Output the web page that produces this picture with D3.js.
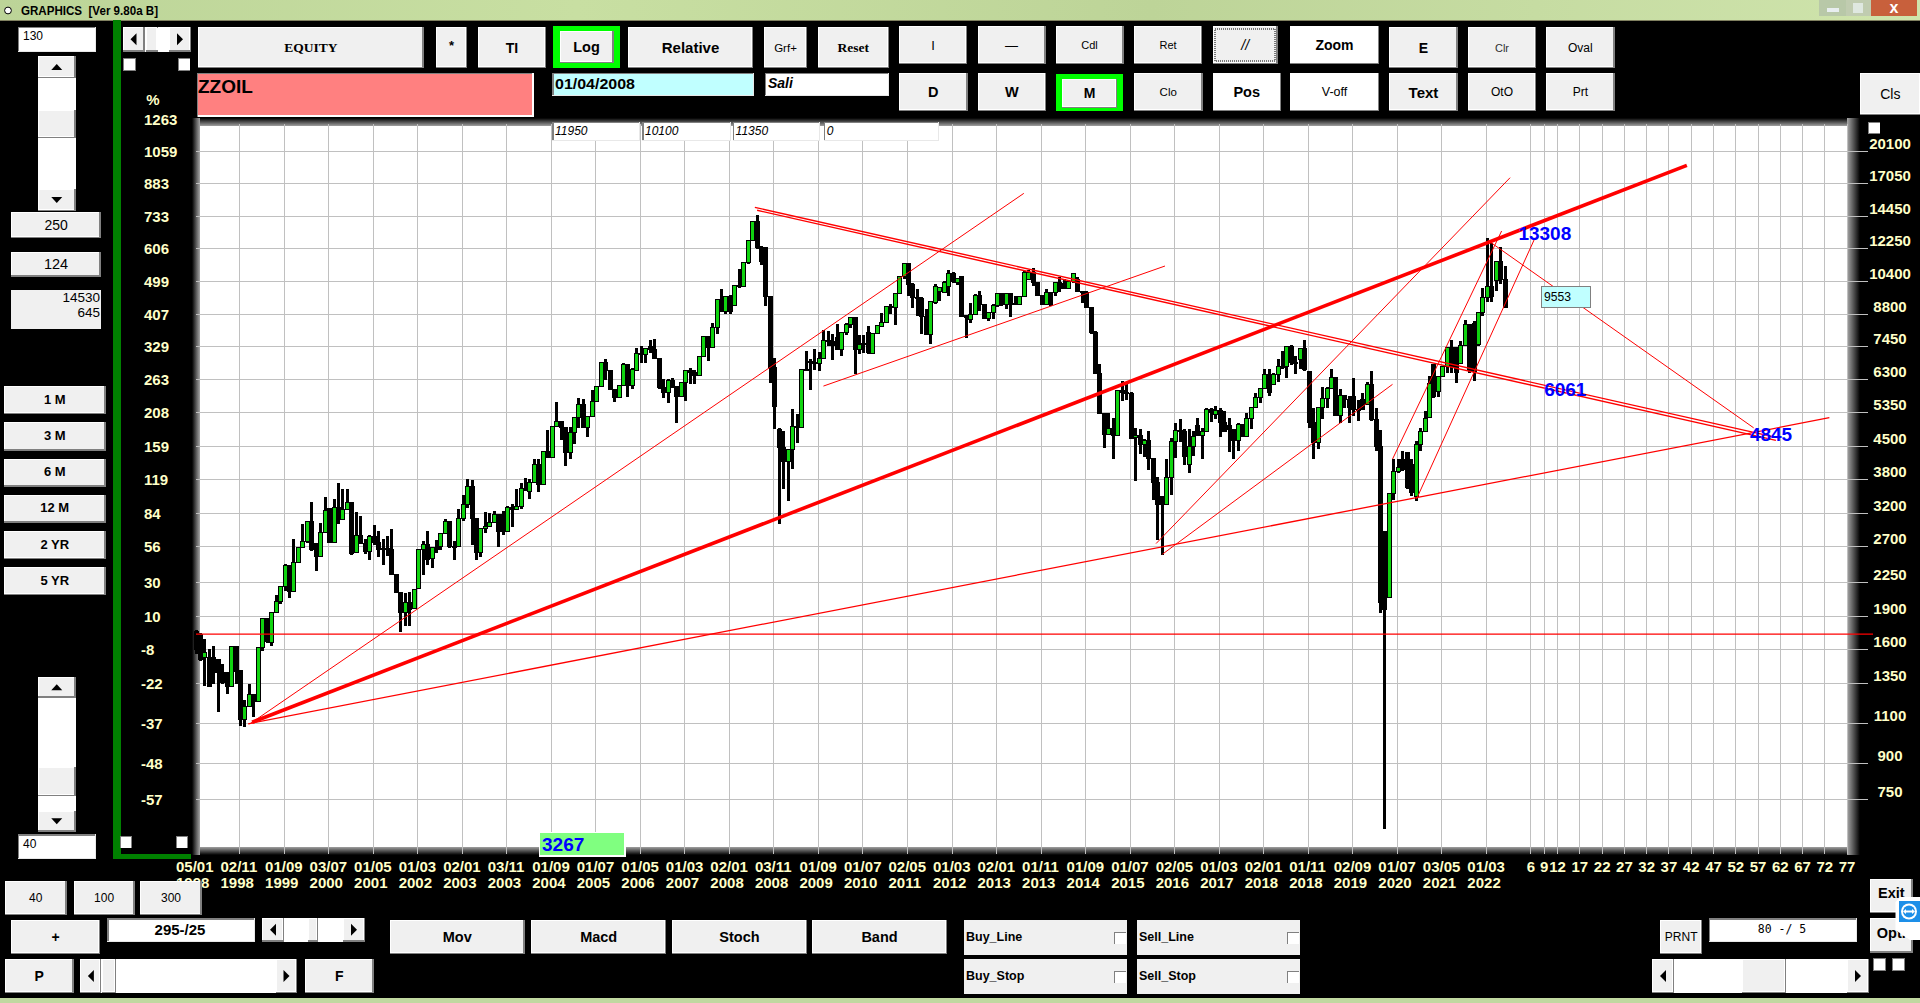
<!DOCTYPE html>
<html><head><meta charset="utf-8">
<script src="https://cdn.jsdelivr.net/npm/d3@7"></script>
<style>html,body{margin:0;padding:0;background:#000;overflow:hidden}svg{display:block}</style>
</head><body><svg id="c" width="1920" height="1003"></svg>
<script>
// ---------- chart data (monthly OHLC) ----------
const opens=[1760,1730,1538,1538,1538,1525,1425,1425,1332,1626,
1444,1124,1203,1276,1234,1617,1874,1659,1938,2050,
2212,2460,2156,2489,2686,2770,3065,2747,2575,2910,
3275,2756,3304,3103,3265,3377,2619,2865,2747,2640,
2841,2756,2677,2673,2664,2346,2138,1938,2033,1972,
2182,2664,2732,2540,2686,2709,2890,3077,2709,2700,
3124,3348,3675,3113,2619,2964,3000,3060,3183,3183,
2925,3292,3265,3320,3625,3585,3738,4100,3705,4375,
4260,4984,5110,4940,4368,4835,5218,5565,4958,5226,
5660,6085,6875,6625,6004,5755,6127,6815,6127,6625,
7207,7170,7455,7355,7015,6055,5903,6295,6106,5804,
6211,6625,6534,6446,7085,7843,7418,8210,9480,8935,
9642,9195,10196,10110,11421,12750,14065,12325,12325,9642,
6700,4900,4465,4170,4428,4984,4958,6646,6930,6875,
6860,7015,7712,7670,7800,7355,8030,8350,8640,7355,
7545,8000,7207,7978,8280,8421,9165,9090,9755,10640,
11363,10230,9560,9500,8711,7937,9321,9890,9840,10100,
10800,10318,10640,8740,8565,8785,9690,9240,8590,8860,
9200,9770,9240,9750,9300,9240,9642,10494,10855,10318,
9675,9240,9840,9807,10318,10300,10010,10405,10500,9890,
9807,9120,8030,6500,5310,4778,4925,4755,5973,5903,
5880,4698,4762,4540,4640,4230,3738,3480,3348,3835,
4600,4885,4860,4102,4503,5000,4755,4860,5424,5290,
5408,5087,5000,4900,4643,5030,4738,5173,5470,5755,
6024,6480,6160,6480,6760,6750,7455,6875,6992,7380,
6590,5070,4580,5470,5725,6024,6370,5270,5833,5700,
5800,5424,5700,5565,6160,5156,4503,2925,2085,3535,
3967,4200,4368,4100,3494,4540,4842,5200,6800,5950,
6400,6760,7418,7418,6850,7505,8350,8400,7545,8860,
9560,10110,10440,11518,10494];
const highs=[1775,1740,1692,1610,1631,1525,1487,1430,1626,1626,
1444,1244,1347,1281,1617,1874,1874,1938,2112,2212,
2470,2460,2813,2686,3035,3065,3394,2747,3050,3480,
3275,3434,3738,3625,3625,3377,3226,3156,2813,2875,
3010,2925,2813,2851,2959,2346,2138,2138,2150,2175,
2664,2780,2925,2686,2795,2890,3103,3077,2780,3265,
3515,3814,3790,3130,2975,3226,3210,3237,3183,3237,
3320,3348,3625,3725,3833,3802,4220,4220,4375,4875,
4984,5640,5110,4940,4967,5226,5755,5725,5226,5985,
6106,6875,6992,6625,6004,6127,6875,6815,6700,7392,
7481,7418,7712,7738,7050,6316,6316,6370,6106,6211,
6625,6680,6625,7085,7843,7843,8421,9480,9974,9642,
9675,10196,11078,11421,12750,14065,14530,12430,12325,9642,
7050,4940,4860,4428,5424,5290,6646,7294,7015,7380,
7258,8110,8070,7960,8350,8030,8390,8680,8640,7896,
7910,8280,8005,8310,8830,9165,9240,9755,10640,11363,
11363,10318,10010,9610,9011,9370,10230,10110,10405,10985,
10890,10530,10640,8740,9321,9725,9890,9240,8860,9240,
9807,9770,9750,9750,9642,9642,10950,11003,11100,10318,
9675,9974,9840,10355,10640,10494,10440,10820,10620,9890,
9890,9120,8070,6840,5310,5333,5182,5973,6263,6160,
5933,4940,4900,4658,4860,4230,3855,3480,4208,4680,
5050,5173,4915,4915,4860,5200,4940,5470,5470,5517,
5470,5378,5200,4915,5050,5030,5315,5490,5893,6024,
6668,6646,6512,6992,7294,7455,7520,7110,7380,7712,
6590,5470,5470,6085,6085,6668,6370,6004,5833,5804,
6350,5687,5903,6232,6590,5470,4885,2925,3535,4208,
4208,4390,4368,4208,4620,4940,5378,6424,6840,6424,
6760,7455,7712,7418,7670,8536,8350,8490,8860,10059,
12970,12642,11518,12390,11229];
const lows=[1564,1512,1336,1328,1343,1169,1343,1281,1332,1343,
1087,1084,1207,1140,1234,1595,1659,1631,1938,2023,
2156,2085,2156,2489,2686,2756,2640,2386,2575,2910,
2756,2756,3035,3103,3265,2597,2619,2747,2610,2532,
2732,2566,2468,2575,2346,2138,1752,1805,1805,1972,
2182,2346,2468,2427,2619,2664,2890,2686,2523,2700,
3077,3292,2722,2532,2566,2900,3000,3060,2700,2875,
2925,2990,3255,3265,3585,3446,3738,3565,3705,4260,
4260,4984,4645,4068,4220,4540,4940,4958,4722,5226,
5660,6085,6295,6004,5640,5755,6106,5775,6015,6590,
6875,6875,7232,6992,6004,5755,5611,6055,5070,5804,
5660,6160,6160,6424,7085,6930,7418,7937,8890,8785,
8785,9165,10059,10110,11325,12750,12263,11267,9165,6211,
4900,3025,3613,3405,4000,4580,5030,6640,5985,6625,
6590,7015,7481,6957,7330,7110,7896,8210,6480,7170,
7232,7170,7207,7978,8280,8390,8785,8310,9720,10494,
9642,9090,8711,7960,7937,7545,9240,9400,9840,9642,
10318,10180,8711,7800,8390,8785,8935,8565,8490,8565,
9140,9165,9011,8680,9195,9240,9642,10494,10144,9642,
9240,9240,9165,9642,9840,10010,10010,10318,9840,9321,
9120,7960,6500,5290,4465,4755,4222,4762,5660,5687,
4658,3770,4317,4265,3987,3425,2794,2597,3348,3520,
4245,4600,4082,3933,4280,4755,4222,4860,5087,5156,
4722,4860,4368,4222,4390,4722,4738,4915,5470,5611,
6024,5804,6160,6232,6668,6370,6783,6480,6646,6590,
4940,4208,4443,5156,5470,6024,5244,5070,5470,5070,
5244,5113,5424,5565,5113,4390,1932,645,2085,3425,
3933,3967,3613,3494,3405,4390,4842,5200,5755,5775,
6400,6534,6534,6211,6815,7505,6534,6263,7481,8711,
9355,9355,9890,10230,9090];
const closes=[1604,1525,1577,1332,1425,1425,1354,1332,1626,1437,
1124,1203,1276,1234,1617,1874,1667,1938,2050,2212,
2460,2156,2489,2686,2770,3065,2664,2575,2910,3255,
2756,3304,3103,3265,3377,2610,2865,2747,2640,2851,
2756,2664,2664,2664,2346,2138,1938,2033,1965,2175,
2664,2732,2532,2686,2664,2890,3077,2709,2700,3124,
3348,3675,3113,2619,2964,3000,3060,3183,2920,2925,
3292,3265,3320,3625,3595,3738,4100,3705,4375,4260,
4984,5110,4940,4368,4835,5218,5565,4958,5226,5660,
6085,6875,6625,6004,5755,6127,6815,6127,6646,7207,
7170,7392,7355,7015,6055,5903,6295,6106,5804,6211,
6625,6534,6446,7085,7843,7418,8210,9480,8935,9642,
8935,10196,10110,11421,12750,14065,12325,11518,9642,6700,
5500,4465,4170,4428,4984,4958,6646,6640,6875,6860,
7015,7712,7670,7500,7355,8030,8350,8640,7355,7545,
7582,7232,7978,8310,8421,9165,9100,9755,10640,11363,
10230,9560,9500,8711,7937,9370,10110,10060,10350,10800,
10405,10530,8711,8640,8785,9690,9240,8590,8860,9200,
9770,9240,9750,9240,9240,9642,10890,10855,10318,9675,
9240,9840,9240,10318,10010,10010,10405,10800,9890,9807,
9120,8030,6500,5310,4778,4925,4755,5973,5903,5880,
4675,4762,4540,4640,4230,3738,3348,3348,3835,4600,
4885,4860,4280,4503,4738,4755,4860,5424,5350,5408,
5087,4860,4900,4643,5030,4738,5173,5470,5755,6024,
6480,5903,6480,6760,6750,7455,6875,6850,7380,6646,
5070,4580,5470,5725,6024,6370,5270,5833,5700,5470,
5424,5400,5424,6160,5156,4503,2033,1965,3535,3967,
4030,4000,3650,3553,4540,4842,5173,6180,5800,6400,
6760,7418,6760,6534,7505,8350,6600,6590,8860,9560,
10110,9642,11518,10494,9090];
const priceTicks=[20100,17050,14450,12250,10400,8800,7450,6300,5350,4500,3800,3200,2700,2250,1900,1600,1350,1100,900,750];
const pctLabels=["1059","883","733","606","499","407","329","263","208","159","119","84","56","30","10","-8","-22","-37","-48","-57"];
const dateLabels=["05/01","02/11","01/09","03/07","01/05","01/03","02/01","03/11","01/09","01/07","01/05","01/03","02/01","03/11","01/09","01/07","02/05","01/03","02/01","01/11","01/09","01/07","02/05","01/03","02/01","01/11","02/09","01/07","03/05","01/03"];
const yearLabels=["1998","1998","1999","2000","2001","2002","2003","2003","2004","2005","2006","2007","2008","2008","2009","2010","2011","2012","2013","2013","2014","2015","2016","2017","2018","2018","2019","2020","2021","2022"];
const futureLabels=[6,9,12,17,22,27,32,37,42,47,52,57,62,67,72,77];
// trend lines: [barIndex1, price1, barIndex2, price2]
const thinLines=[[12.1,1100,185.9,16236],[140.9,6106,217.6,11229],[215.6,2746,295.1,17580],[217,2600,268.7,6160],[268.7,4215,293.2,13414],[274.1,3445,300.7,12953],[290.1,12790,349.8,4940]];
const mediumLine=[11.7,1100,366.8,5200];
const heavyLine=[12.6,1109,334.8,18720];
const doubleLines=[[125.5,15127,354.8,4706],[126,14900,354.8,4635]];
const levelLine=[0,1734,376.6,1734];
const priceNotes=[{t:"13308",i:302.9,p:13260},{t:"6061",i:307.5,p:6000},{t:"4845",i:353.7,p:4785}];

// ---------- scales ----------
const svg=d3.select("#c");
const x=d3.scaleLinear().domain([0,371]).range([196,196+371*4.453]);
const y=d3.scaleLog().domain([750,20100]).range([799.3,151.3]);
const NARROW="'Liberation Sans Narrow','Liberation Sans',Arial,sans-serif";
const SANS="'Liberation Sans',Arial,sans-serif";
const SERIF="'Liberation Serif',serif";
const CREAM="#ffffc8";

const defs=svg.append("defs");
function grad(id,x2,y2,stops){const g=defs.append("linearGradient").attr("id",id).attr("x1",0).attr("y1",0).attr("x2",x2).attr("y2",y2);
  stops.forEach(s=>g.append("stop").attr("offset",s[0]).attr("stop-color",s[1]));}
grad("title",1,0,[[0,"#bcd498"],[0.3,"#c8dfa2"],[0.6,"#bdd498"],[1,"#cfe4ac"]]);
grad("fT",0,1,[[0,"#000"],[1,"#a0a0a0"]]);
grad("fB",0,1,[[0,"#a0a0a0"],[1,"#000"]]);
grad("fL",1,0,[[0,"#000"],[1,"#a8a8a8"]]);
grad("fR",1,0,[[0,"#a8a8a8"],[1,"#000"]]);

function rect(g,x0,y0,w,h,fill){return g.append("rect").attr("x",x0).attr("y",y0).attr("width",w).attr("height",h).attr("fill",fill).attr("shape-rendering","crispEdges");}
function text(g,s,tx,ty,o={}){return g.append("text").attr("x",tx).attr("y",ty).text(s)
  .attr("font-family",o.f||NARROW).attr("font-size",o.s||13).attr("font-weight",o.w||"normal").attr("font-style",o.i||"normal")
  .attr("fill",o.c||"#000").attr("text-anchor",o.a||"middle").attr("dominant-baseline","central");}
function button(x0,y0,x1,y1,label,o={}){
  const g=svg.append("g");
  rect(g,x0,y0,x1-x0,y1-y0,"#808080");
  rect(g,x0,y0,x1-x0-1.5,y1-y0-1.5,"#ffffff");
  rect(g,x0+1,y0+1,x1-x0-3,y1-y0-3,o.fill||"#f0f0f0");
  if(label!==undefined&&label!=="") text(g,label,(x0+x1)/2,(y0+y1)/2+(o.dy||0),o);
  return g;
}
function input(x0,y0,x1,y1,fill){
  const g=svg.append("g");
  rect(g,x0,y0,x1-x0,y1-y0,"#e8e8e8");
  rect(g,x0,y0,x1-x0-1,1.5,"#808080");
  rect(g,x0,y0,1.5,y1-y0-1,"#808080");
  rect(g,x0+1.5,y0+1.5,x1-x0-2.5,y1-y0-2.5,fill||"#fff");
  return g;
}
function check(x0,y0,s){rect(svg,x0,y0,s,s,"#808080");rect(svg,x0+1,y0+1,s-1.5,s-1.5,"#fff");}
function arrow(g,cx,cy,dir){const a=4.5,b=5.5;const p={u:[[cx-b,cy+a/1.5],[cx+b,cy+a/1.5],[cx,cy-a/1.5]],d:[[cx-b,cy-a/1.5],[cx+b,cy-a/1.5],[cx,cy+a/1.5]],l:[[cx+3,cy-6],[cx+3,cy+6],[cx-3,cy]],r:[[cx-3,cy-6],[cx-3,cy+6],[cx+3,cy]]}[dir];
  g.append("path").attr("d",d3.line()(p)+"Z").attr("fill","#000");}
function vscroll(x0,x1,y0,y1,btn,t0,t1){
  button(x0,y0,x1,y0+btn);arrow(svg,(x0+x1)/2,y0+btn/2,"u");
  rect(svg,x0,y0+btn,x1-x0,y1-y0-2*btn,"#fff");
  button(x0,t0,x1,t1);
  button(x0,y1-btn,x1,y1);arrow(svg,(x0+x1)/2,y1-btn/2,"d");
}
function hscroll(x0,x1,y0,y1,btn,t0,t1){
  rect(svg,x0,y0,x1-x0,y1-y0,"#fff");
  button(x0,y0,x0+btn,y1);arrow(svg,x0+btn/2,(y0+y1)/2,"l");
  button(t0,y0,t1,y1);
  button(x1-btn,y0,x1,y1);arrow(svg,x1-btn/2,(y0+y1)/2,"r");
}

// ---------- window chrome ----------
rect(svg,0,0,1920,1003,"#000");
rect(svg,0,0,1920,20,"url(#title)");
rect(svg,0,20,1920,1,"#808060");
svg.append("circle").attr("cx",8).attr("cy",10.5).attr("r",3.4).attr("fill","#fff").attr("stroke","#000");
text(svg,"GRAPHICS  [Ver 9.80a B]",21,10.5,{a:"start",s:12.5,w:"bold",f:SANS}).attr("textLength",137).attr("lengthAdjust","spacingAndGlyphs").attr("xml:space","preserve");
rect(svg,1819,0,27,16,"#b8c8a8");rect(svg,1846,0,25,16,"#c0ccb0");rect(svg,1871,0,46,16,"#c8603c");
rect(svg,1827,8,12,4,"#e8eef0");rect(svg,1853,3,10,10,"#dfe8e0");
text(svg,"x",1894,7,{c:"#fff",w:"bold",s:16,f:SANS});
rect(svg,0,998,1920,5,"#c0d8a0");

// ---------- plot ----------
rect(svg,200,126,1647,721,"#fff");
rect(svg,192,118,1668,8,"url(#fT)");
rect(svg,192,847,1668,8,"url(#fB)");
rect(svg,192,118,8,737,"url(#fL)");
rect(svg,1847,118,13,737,"url(#fR)");

const gridBars=d3.range(10,300,10).concat(d3.range(0,16).map(k=>(k===0?300:k===1?303:k===2?306:306+(k-2)*5)));
svg.append("g").selectAll("line").data(gridBars).join("line")
  .attr("x1",d=>x(d)-1).attr("x2",d=>x(d)-1).attr("y1",124).attr("y2",854)
  .attr("stroke","#c0c0c0").attr("stroke-width",1).attr("shape-rendering","crispEdges");
svg.append("g").selectAll("line").data(priceTicks).join("line")
  .attr("x1",196).attr("x2",1868).attr("y1",d=>y(d)).attr("y2",d=>y(d))
  .attr("stroke","#c0c0c0").attr("stroke-width",1).attr("shape-rendering","crispEdges");

// candles
const bars=d3.range(closes.length).map(i=>({i,o:opens[i],h:highs[i],l:lows[i],c:closes[i]}));
const cg=svg.append("g").attr("shape-rendering","crispEdges");
cg.selectAll("rect.w").data(bars).join("rect").attr("class","w")
  .attr("x",d=>x(d.i)-1.5).attr("width",3)
  .attr("y",d=>y(d.h)).attr("height",d=>Math.max(1,y(d.l)-y(d.h))).attr("fill","#000");
cg.selectAll("rect.b").data(bars).join("rect").attr("class","b")
  .attr("x",d=>x(d.i)-2).attr("width",4)
  .attr("y",d=>y(Math.max(d.o,d.c))).attr("height",d=>Math.max(1,Math.abs(y(d.o)-y(d.c))))
  .attr("fill",d=>d.c>=d.o?"#10d410":"#000").attr("stroke","#000").attr("stroke-width",1);

// trend lines
function tl(d,w){svg.append("line").attr("x1",x(d[0])).attr("y1",y(d[1])).attr("x2",x(d[2])).attr("y2",y(d[3])).attr("stroke","#ff0000").attr("stroke-width",w);}
thinLines.forEach(d=>tl(d,1));
tl(mediumLine,1.3);
doubleLines.forEach(d=>tl(d,1.4));
tl(heavyLine,3.6);
tl(levelLine,1.2);

// axes labels
svg.append("g").selectAll("text").data(priceTicks).join("text")
  .attr("x",1890).attr("y",d=>y(d)-8).attr("text-anchor","middle").attr("dominant-baseline","central")
  .attr("font-family",NARROW).attr("font-size",15).attr("font-weight","bold").attr("fill",CREAM).text(d=>d);
rect(svg,1860,126,60,12,"#000");
svg.append("g").selectAll("text").data(priceTicks).join("text")
  .attr("x",144).attr("y",d=>y(d)).attr("text-anchor","start").attr("dx",(d,i)=>pctLabels[i][0]==="-"?-3:0)
  .attr("dominant-baseline","central").attr("font-family",NARROW).attr("font-size",15).attr("font-weight","bold").attr("fill",CREAM).text((d,i)=>pctLabels[i]);
text(svg,"1263",144,y(20100)-32,{a:"start",s:15,w:"bold",c:CREAM});
text(svg,"%",153,99,{s:15,w:"bold",c:CREAM});
dateLabels.forEach((s,k)=>{
  const px=x(k*10)-1-19;
  text(svg,s,px,866,{a:"start",s:15,w:"bold",c:CREAM});
  text(svg,yearLabels[k],px,882,{a:"start",s:15,w:"bold",c:CREAM});
});
futureLabels.forEach(n=>text(svg,n,x(294+n)-1,866,{s:15,w:"bold",c:CREAM}));

// notes on chart
priceNotes.forEach(n=>text(svg,n.t,x(n.i),y(n.p),{s:19,w:"bold",c:"#0000ff",f:SANS}));
rect(svg,1541,286,50,22,"#808080");rect(svg,1542,287,48,20,"#c0ffff");
text(svg,"9553",1544,297,{a:"start",s:12.5,f:SANS}).attr("textLength",27).attr("lengthAdjust","spacingAndGlyphs");
rect(svg,539,832,87,25,"#fff");rect(svg,540,833,84,22,"#80ff80");
text(svg,"3267",542,844.5,{a:"start",s:19,w:"bold",c:"#0000ff",f:SANS});

// ---------- inputs on plot ----------
[[552,640,"11950"],[642,730.6,"10100"],[732.6,820.4,"11350"],[823.7,939,"0"]].forEach(d=>{input(d[0],121.7,d[1],140.7);text(svg,d[2],d[0]+3,131,{a:"start",s:12,i:"italic"});});

// ---------- left panel ----------
rect(svg,113,20,7.5,838,"#008000");rect(svg,113,854,78,5,"#008000");
input(17.5,26.7,96,51.7);text(svg,"130",23,36,{a:"start",s:12});
vscroll(38,75.5,56,211,22,110,138);
button(11.4,212,100.8,238,"250",{s:14});
button(11.4,251.7,100.8,276.7,"124",{s:14.5});
rect(svg,11,290,90,39,"#f0f0f0");
text(svg,"14530",100,297,{a:"end",s:13.5});text(svg,"645",100,312,{a:"end",s:13.5});
[["1 M",386,414],["3 M",422,450.7],["6 M",459,486.7],["12 M",495,522.7],["2 YR",531,559],["5 YR",567,595]].forEach(d=>button(4,d[1],105.5,d[2],d[0],{s:13,w:"bold",dy:-1}));
vscroll(38,75.5,676.7,831.7,21,766.7,796);
input(17.5,834,96,859);text(svg,"40",23,844,{a:"start",s:12});
hscroll(122.5,191,26.7,51.7,22,146,158);
rect(svg,157,28,12,22,"#fff");
check(123,58,12.5);check(177.5,58,12.5);
check(119.5,836,12);check(175.5,836,12);
button(5,881,66.5,915,"40",{s:12});button(73.5,881,134.7,915,"100",{s:12});button(140.4,881,201.6,915,"300",{s:12});
button(11.4,920,100,954.3,"+",{s:14,w:"bold",f:SANS});
input(107,918,254.7,941.7);text(svg,"295-/25",180,929.5,{s:15,w:"bold"});
hscroll(262,365,918,941.7,22,308,318);
button(5,959,73.5,993,"P",{s:14,w:"bold"});
hscroll(80.4,297,959,993,21,102,116);
button(305,959,373.5,993,"F",{s:14,w:"bold"});
[["Mov",390,524.5],["Macd",531.4,666],["Stoch",672,807],["Band",812,947]].forEach(d=>button(d[1],920,d[2],954.3,d[0],{s:14.5,w:"bold"}));

// check panels
[["Buy_Line",964,920],["Buy_Stop",964,959],["Sell_Line",1137,920],["Sell_Stop",1137,959]].forEach(d=>{
  rect(svg,d[1],d[2],162.5,35,"#f0f0f0");
  text(svg,d[0],d[1]+2,d[2]+17,{a:"start",s:12.5,w:"bold"});
  check(d[1]+150,d[2]+12,12);
});

// ---------- top toolbar ----------
button(198,26.7,423.7,68.3,"EQUITY",{s:13.5,w:"bold",f:SERIF});
button(436,26.7,467,68.3,"*",{s:13,w:"bold",f:SANS,dy:-2});
button(478,26.7,546,68.3,"TI",{s:14,w:"bold"});
rect(svg,552.6,26,67.8,42,"#00ff00");button(559.5,31,613.5,63,"Log",{s:14.5,w:"bold"});
button(628,26.7,753,68.3,"Relative",{s:15,w:"bold"});
button(764,26.7,807,68.3,"Grf+",{s:11.5});
button(817.5,26.7,889,68.3,"Reset",{s:13.5,w:"bold",f:SERIF});
[["I",899,13],["—",977.6,13],["Cdl",1055.5,11],["Ret",1134,11]].forEach(d=>button(d[1],26,d[1]+68,64,d[0],{s:d[2],f:d[0]==="—"?SANS:NARROW}));
button(1213,26,1277.5,64,"//",{s:14,i:"italic"});
svg.append("rect").attr("x",1215).attr("y",29).attr("width",60).attr("height",32).attr("fill","none").attr("stroke","#000").attr("stroke-dasharray","1 1");
[["D",899,"#f0f0f0"],["W",977.6,"#f0f0f0"],["Clo",1134,"#f0f0f0"],["Pos",1212.5,"#fff"]].forEach(d=>button(d[1],73.3,d[1]+68.5,111,d[0],{s:d[0]==="Clo"?11.5:14.5,fill:d[2],w:d[0]==="Clo"?"normal":"bold"}));
rect(svg,1056,74,67,37,"#00ff00");button(1062,78.5,1117,108,"M",{s:14,w:"bold"});
button(1290,26,1379,64,"Zoom",{s:14,w:"bold",fill:"#fff"});
button(1290,73.3,1379,111,"V-off",{s:12.5,fill:"#fff"});
button(1389.4,26.7,1457.5,68.3,"E",{s:14,w:"bold"});
button(1389.4,73.3,1457.5,111,"Text",{s:15,w:"bold"});
button(1468,26.7,1536,68.3,"Clr",{s:11,c:"#303030"});
button(1468,73.3,1536,111,"OtO",{s:12});
button(1546,26.7,1614.7,68.3,"Oval",{s:12});
button(1546,73.3,1614.7,111,"Prt",{s:12});
button(1859.6,73,1921,115,"Cls",{s:14,w:"normal"});
check(1868,121.7,12);

// name, date, user boxes
rect(svg,196.7,72.7,337,44,"#fff");rect(svg,196.7,72.7,335.5,1.5,"#808080");rect(svg,196.7,72.7,1.5,44,"#808080");rect(svg,198,74,334,41,"#ff8080");
text(svg,"ZZOIL",198,86.5,{a:"start",s:19,w:"bold",f:SANS});
input(552,72.7,754,95.7,"#c0ffff");text(svg,"01/04/2008",555,83,{a:"start",s:15,w:"bold",f:SANS}).attr("textLength",80).attr("lengthAdjust","spacingAndGlyphs");
input(764.5,72.7,889,95.7);text(svg,"Sali",768,83,{a:"start",s:14,w:"bold",i:"italic"});

// ---------- lower right ----------
button(1660,920,1702.4,954.3,"PRNT",{s:12});
input(1708.6,918,1856.7,941.7);text(svg,"80 -/ 5",1782,928.5,{s:11.5,f:"'DejaVu Sans Mono',monospace"}).attr("xml:space","preserve");
button(1870,879,1912.7,913,"Exit",{s:14.5,w:"bold",dy:-3});
button(1870,918,1912.7,952.7,"Opt.",{s:14.5,w:"bold",dy:-2});
hscroll(1652,1869,959,993,22,1742.4,1786);
check(1873,958,12.5);check(1892,958,12.5);
// remote-support badge
svg.append("path").attr("d","M1900 897H1920V940H1910L1895.5 930V902Z").attr("fill","#fff");
rect(svg,1899,901,21,21,"#1d8fe8");
svg.append("circle").attr("cx",1909).attr("cy",911.5).attr("r",8).attr("fill","#fff");
svg.append("circle").attr("cx",1909).attr("cy",911.5).attr("r",6).attr("fill","#1d8fe8");
svg.append("path").attr("d","M1903 911.5l3-2.5v1.5h6v-1.5l3 2.5-3 2.5v-1.5h-6v1.5z").attr("fill","#fff");
</script></body></html>
